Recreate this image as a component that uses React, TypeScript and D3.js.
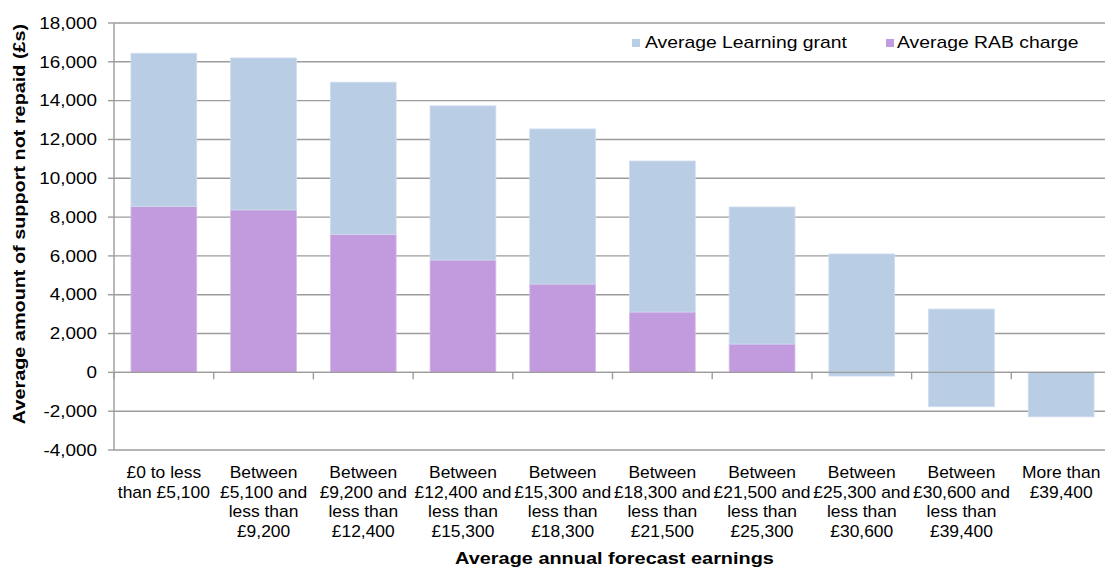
import React from "react";
import * as d3 from "d3";

const categories = [
  "£0 to less than £5,100",
  "Between £5,100 and less than £9,200",
  "Between £9,200 and less than £12,400",
  "Between £12,400 and less than £15,300",
  "Between £15,300 and less than £18,300",
  "Between £18,300 and less than £21,500",
  "Between £21,500 and less than £25,300",
  "Between £25,300 and less than £30,600",
  "Between £30,600 and less than £39,400",
  "More than £39,400",
];
const categoryLines = [
  ["£0 to less", "than £5,100"],
  ["Between", "£5,100 and", "less than", "£9,200"],
  ["Between", "£9,200 and", "less than", "£12,400"],
  ["Between", "£12,400 and", "less than", "£15,300"],
  ["Between", "£15,300 and", "less than", "£18,300"],
  ["Between", "£18,300 and", "less than", "£21,500"],
  ["Between", "£21,500 and", "less than", "£25,300"],
  ["Between", "£25,300 and", "less than", "£30,600"],
  ["Between", "£30,600 and", "less than", "£39,400"],
  ["More than", "£39,400"],
];
const rabCharge = [8540, 8370, 7110, 5790, 4550, 3110, 1460, -190, -1770, -2290];
const learningGrant = [7900, 7830, 7840, 7940, 7990, 7780, 7060, 6290, 5030, 2290];
const yTicks = [-4000, -2000, 0, 2000, 4000, 6000, 8000, 10000, 12000, 14000, 16000, 18000];
const seriesNames = ["Average Learning grant", "Average RAB charge"];
const yTitle = "Average amount of support not repaid (£s)";
const xTitle = "Average annual forecast earnings";

const BLUE = "#B9CDE5";
const PURPLE = "#C29ADE";
const GRID = "#9c9c9c";
const FONT = "'Liberation Sans', Arial, sans-serif";

function T({ x, y, sx = 1, rotate = 0, anchor = "start", size = 16, weight = "normal", dy = "0", children }: any) {
  return (
    <g transform={`translate(${x},${y}) rotate(${rotate}) scale(${sx},1)`}>
      <text textAnchor={anchor} fontSize={size} fontWeight={weight} dy={dy} fill="#000" fontFamily={FONT}>
        {children}
      </text>
    </g>
  );
}

export default function App() {
  const W = 1105, H = 568;
  const left = 114, right = 1111, top = 23, bottom = 450;
  const x = d3.scaleBand<string>().domain(categories).range([left, right]).paddingInner(0.34).paddingOuter(0.17);
  const y = d3.scaleLinear().domain([-4000, 18000]).range([bottom, top]);
  const fmt = (v: number) => d3.format(",")(v).replace("\u2212", "-");
  const fullStep = (right - left) / categories.length;

  return (
    <svg width={W} height={H} style={{ position: "absolute", left: 0, top: 0, background: "#fff" }}>
      <rect x={0} y={0} width={W} height={H} fill="#fff" />
      {/* gridlines */}
      {yTicks.map((t) => (
        <line key={"g" + t} x1={left} x2={right} y1={y(t)} y2={y(t)} stroke={GRID} strokeWidth={1.4} />
      ))}
      {/* bars */}
      {categories.map((c, i) => {
        const bx = x(c)!;
        const bw = x.bandwidth();
        const r = rabCharge[i];
        const g = learningGrant[i];
        return (
          <g key={c}>
            {r > 0 && (
              <rect x={bx} width={bw} y={y(r)} height={y(0) - y(r)} fill={PURPLE} stroke="#d6bdea" strokeWidth={0.8} />
            )}
            <rect x={bx} width={bw} y={y(r + g)} height={y(r) - y(r + g)} fill={BLUE} stroke="#cfdcee" strokeWidth={0.8} />
          </g>
        );
      })}
      {/* x axis at zero */}
      <line x1={left} x2={right} y1={y(0)} y2={y(0)} stroke={GRID} strokeWidth={1.4} />
      {d3.range(categories.length + 1).map((k) => (
        <line key={"xt" + k} x1={left + k * fullStep} x2={left + k * fullStep} y1={y(0)} y2={y(0) + 7} stroke={GRID} strokeWidth={1.4} />
      ))}
      {/* y axis */}
      <line x1={left} x2={left} y1={top} y2={bottom} stroke={GRID} strokeWidth={1.4} />
      {yTicks.map((t) => (
        <line key={"yt" + t} x1={left - 6} x2={left} y1={y(t)} y2={y(t)} stroke={GRID} strokeWidth={1.4} />
      ))}
      {yTicks.map((t) => (
        <T key={"yl" + t} x={97} y={y(t)} sx={1.18} anchor="end" dy="0.36em">
          {fmt(t)}
        </T>
      ))}
      {/* x labels */}
      {categories.map((c, i) => {
        const cx = x(c)! + x.bandwidth() / 2;
        return categoryLines[i].map((line, j) => (
          <T key={c + j} x={cx} y={478 + j * 19.5} sx={1.09} anchor="middle">
            {line}
          </T>
        ));
      })}
      {/* legend */}
      <rect x={632} y={39} width={8} height={8} fill={BLUE} />
      <T x={645} y={48} sx={1.21}>{seriesNames[0]}</T>
      <rect x={886} y={39} width={8} height={8} fill={PURPLE} />
      <T x={897} y={48} sx={1.21}>{seriesNames[1]}</T>
      {/* axis titles */}
      <T x={25} y={224} rotate={-90} sx={1.24} anchor="middle" weight="bold">
        {yTitle}
      </T>
      <T x={(left + right) / 2 + 2} y={564} sx={1.245} anchor="middle" weight="bold">
        {xTitle}
      </T>
    </svg>
  );
}
